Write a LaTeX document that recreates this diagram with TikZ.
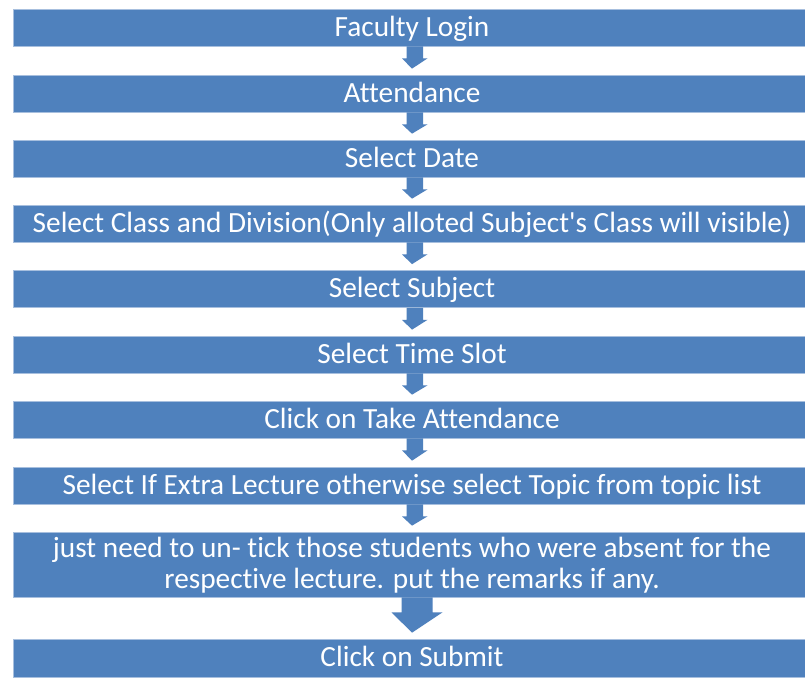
\documentclass[tikz,border=0pt]{standalone}
\usepackage{fontspec}
\setmainfont{Carlito}
\newfontfamily\barfont{Carlito}[Ligatures=NoCommon]
\usetikzlibrary{calc}
\definecolor{barblue}{HTML}{4F81BD}
\definecolor{baredge}{HTML}{A7BFDE}
\begin{document}
\begin{tikzpicture}[x=1pt,y=-1pt,
  bar/.style={fill=barblue, draw=baredge, line width=0.7pt, text=white,
    minimum width=798pt, inner sep=0pt, align=center,
    text height=20pt, text depth=2.5pt,
    font=\barfont\fontsize{29.3}{31}\selectfont},
  arr/.style={fill=barblue}]
\useasboundingbox (0,0) rectangle (805,683);
\fill[white] (0,0) rectangle (805,683);
\node[bar, minimum height=37pt] (b1) at (412,27.5) {Faculty Login};
\node[bar, minimum height=37pt] (b2) at (412,93.5) {Attendance};
\node[bar, minimum height=37pt] (b3) at (412,158.5) {Select Date};
\node[bar, minimum height=37pt] (b4) at (412,223.5) {Select Class and Division(Only alloted Subject's Class will visible)};
\node[bar, minimum height=37pt] (b5) at (412,289) {Select Subject};
\node[bar, minimum height=37pt] (b6) at (412,354.5) {Select Time Slot};
\node[bar, minimum height=37pt] (b7) at (412,419.5) {Click on Take Attendance};
\node[bar, minimum height=37pt] (b8) at (412,485.5) {Select If Extra Lecture otherwise select Topic from topic list};
\node[bar, minimum height=65pt, text height=51pt] (b9) at (412,564.5) {just need to un- tick those students who were absent for the\\respective lecture. put the remarks if any.};
\node[bar, minimum height=38pt] (b10) at (412,658) {Click on Submit};
% small arrows
\foreach \a/\b in {b1/b2,b2/b3,b3/b4,b4/b5,b5/b6,b6/b7,b7/b8,b8/b9}{
  \fill[arr] ($(\a.south)+(-5.5,0)$) -- ++(0,12) -- ++(-4.5,0) -- ($(\b.north)+(0,-6)$)
    -- ($(\a.south)+(15.5,12)$) -- ++(-4.5,0) -- ++(0,-12) -- cycle;
}
% big arrow
\fill[arr] ($(b9.south)+(-10.5,0)$) -- ++(0,15) -- ++(-10,0) -- ($(b10.north)+(0,-6)$)
  -- ($(b9.south)+(30.5,15)$) -- ++(-10,0) -- ++(0,-15) -- cycle;
\end{tikzpicture}
\end{document}
